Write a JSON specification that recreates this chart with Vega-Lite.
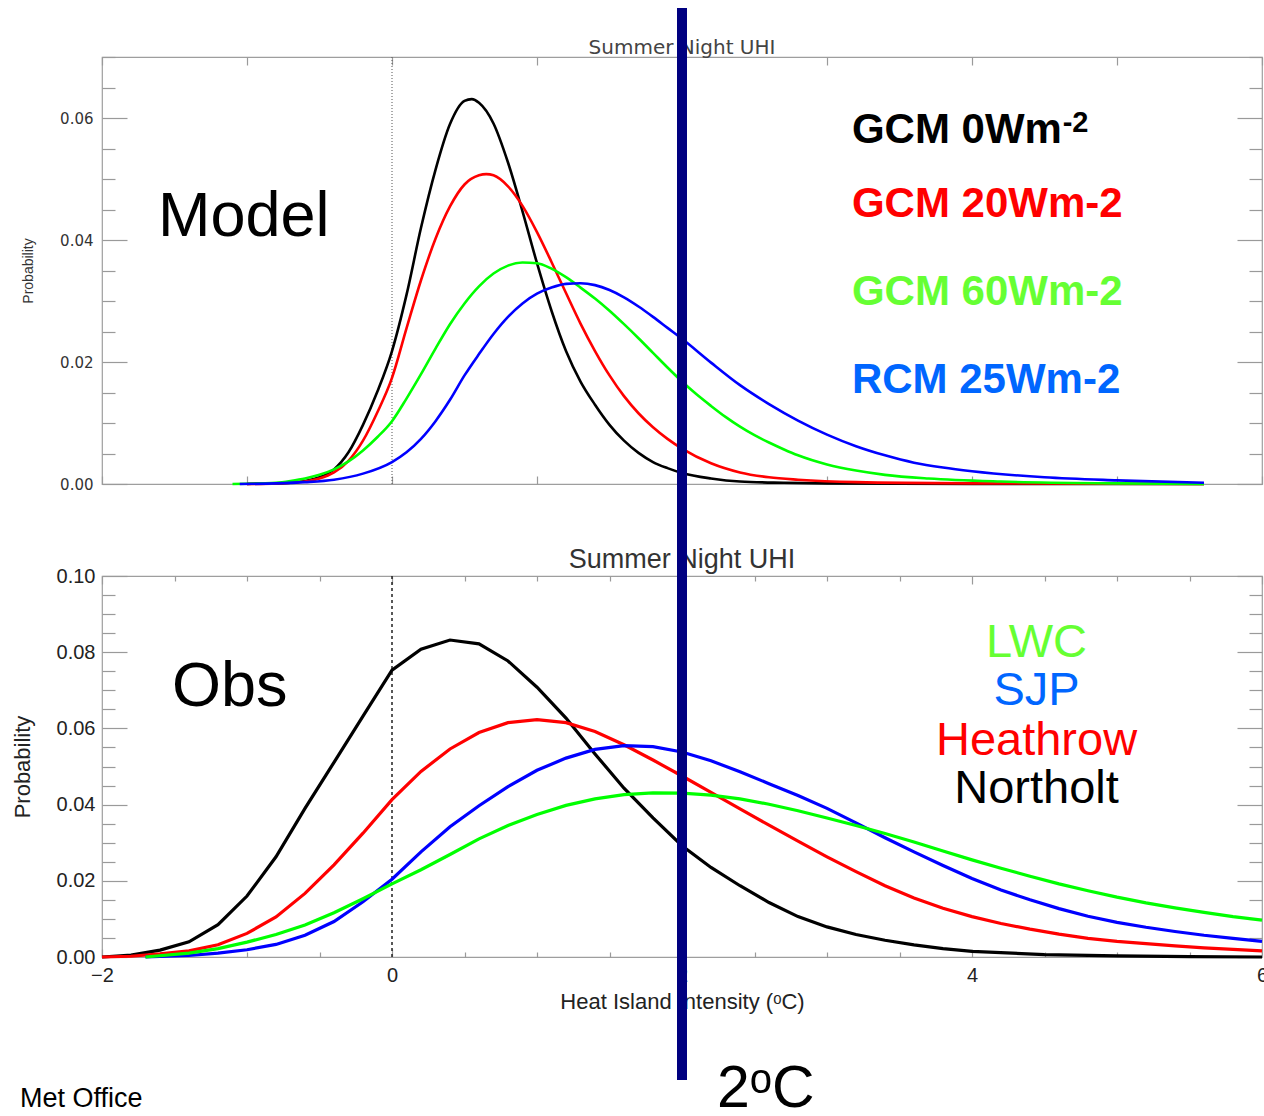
{
  "$schema": "https://vega.github.io/schema/vega-lite/v6.json",
  "background": "white",
  "padding": {"left": 10, "top": 2, "right": 0, "bottom": 0},
  "bounds": "flush",
  "spacing": 92,
  "resolve": {"scale": {"color": "independent", "strokeWidth": "independent"}},
  "config": {
    "view": {"stroke": "#9e9e9e", "strokeWidth": 1.2},
    "font": "Liberation Sans",
    "axis": {"domain": false, "grid": false, "tickColor": "#9a9a9a", "tickWidth": 1.2, "labelOverlap": false, "labelFlush": false, "labelBound": false}
  },
  "datasets": {
    "model": [
      {"run": "GCM 0Wm-2", "t": -1.0, "p": 0}, {"run": "GCM 0Wm-2", "t": -0.9, "p": 0.0001}, {"run": "GCM 0Wm-2", "t": -0.8, "p": 0.0001},
      {"run": "GCM 0Wm-2", "t": -0.7, "p": 0.0002}, {"run": "GCM 0Wm-2", "t": -0.6, "p": 0.0005}, {"run": "GCM 0Wm-2", "t": -0.5, "p": 0.0011},
      {"run": "GCM 0Wm-2", "t": -0.4, "p": 0.0024}, {"run": "GCM 0Wm-2", "t": -0.3, "p": 0.0052}, {"run": "GCM 0Wm-2", "t": -0.2, "p": 0.0097},
      {"run": "GCM 0Wm-2", "t": -0.1, "p": 0.0152}, {"run": "GCM 0Wm-2", "t": 0.0, "p": 0.0218}, {"run": "GCM 0Wm-2", "t": 0.1, "p": 0.031},
      {"run": "GCM 0Wm-2", "t": 0.2, "p": 0.042}, {"run": "GCM 0Wm-2", "t": 0.3, "p": 0.0515}, {"run": "GCM 0Wm-2", "t": 0.4, "p": 0.059},
      {"run": "GCM 0Wm-2", "t": 0.5, "p": 0.0628}, {"run": "GCM 0Wm-2", "t": 0.55, "p": 0.0631}, {"run": "GCM 0Wm-2", "t": 0.6, "p": 0.0625},
      {"run": "GCM 0Wm-2", "t": 0.7, "p": 0.0591}, {"run": "GCM 0Wm-2", "t": 0.8, "p": 0.0527}, {"run": "GCM 0Wm-2", "t": 0.9, "p": 0.0447},
      {"run": "GCM 0Wm-2", "t": 1.0, "p": 0.0362}, {"run": "GCM 0Wm-2", "t": 1.1, "p": 0.0284}, {"run": "GCM 0Wm-2", "t": 1.2, "p": 0.0218},
      {"run": "GCM 0Wm-2", "t": 1.3, "p": 0.0168}, {"run": "GCM 0Wm-2", "t": 1.4, "p": 0.013}, {"run": "GCM 0Wm-2", "t": 1.5, "p": 0.0097},
      {"run": "GCM 0Wm-2", "t": 1.6, "p": 0.0071}, {"run": "GCM 0Wm-2", "t": 1.7, "p": 0.0051}, {"run": "GCM 0Wm-2", "t": 1.8, "p": 0.0036},
      {"run": "GCM 0Wm-2", "t": 1.9, "p": 0.0026}, {"run": "GCM 0Wm-2", "t": 2.0, "p": 0.0018}, {"run": "GCM 0Wm-2", "t": 2.2, "p": 0.0009},
      {"run": "GCM 0Wm-2", "t": 2.4, "p": 0.0004}, {"run": "GCM 0Wm-2", "t": 2.7, "p": 0.0002}, {"run": "GCM 0Wm-2", "t": 3.0, "p": 0.0001},
      {"run": "GCM 0Wm-2", "t": 4.0, "p": 0}, {"run": "GCM 0Wm-2", "t": 5.6, "p": 0},

      {"run": "GCM 20Wm-2", "t": -1.0, "p": 0}, {"run": "GCM 20Wm-2", "t": -0.8, "p": 0.0001}, {"run": "GCM 20Wm-2", "t": -0.7, "p": 0.0002},
      {"run": "GCM 20Wm-2", "t": -0.6, "p": 0.0004}, {"run": "GCM 20Wm-2", "t": -0.5, "p": 0.0009}, {"run": "GCM 20Wm-2", "t": -0.4, "p": 0.0019},
      {"run": "GCM 20Wm-2", "t": -0.3, "p": 0.0038}, {"run": "GCM 20Wm-2", "t": -0.2, "p": 0.0071}, {"run": "GCM 20Wm-2", "t": -0.1, "p": 0.0118},
      {"run": "GCM 20Wm-2", "t": 0.0, "p": 0.0174}, {"run": "GCM 20Wm-2", "t": 0.1, "p": 0.0255}, {"run": "GCM 20Wm-2", "t": 0.2, "p": 0.0334},
      {"run": "GCM 20Wm-2", "t": 0.3, "p": 0.0402}, {"run": "GCM 20Wm-2", "t": 0.4, "p": 0.0455}, {"run": "GCM 20Wm-2", "t": 0.5, "p": 0.0491},
      {"run": "GCM 20Wm-2", "t": 0.6, "p": 0.0506}, {"run": "GCM 20Wm-2", "t": 0.65, "p": 0.0508}, {"run": "GCM 20Wm-2", "t": 0.7, "p": 0.0506},
      {"run": "GCM 20Wm-2", "t": 0.8, "p": 0.0488}, {"run": "GCM 20Wm-2", "t": 0.9, "p": 0.0456}, {"run": "GCM 20Wm-2", "t": 1.0, "p": 0.0413},
      {"run": "GCM 20Wm-2", "t": 1.1, "p": 0.0364}, {"run": "GCM 20Wm-2", "t": 1.2, "p": 0.0313}, {"run": "GCM 20Wm-2", "t": 1.3, "p": 0.0263},
      {"run": "GCM 20Wm-2", "t": 1.4, "p": 0.0218}, {"run": "GCM 20Wm-2", "t": 1.5, "p": 0.0178}, {"run": "GCM 20Wm-2", "t": 1.6, "p": 0.0144},
      {"run": "GCM 20Wm-2", "t": 1.7, "p": 0.0116}, {"run": "GCM 20Wm-2", "t": 1.8, "p": 0.0093}, {"run": "GCM 20Wm-2", "t": 1.9, "p": 0.0074},
      {"run": "GCM 20Wm-2", "t": 2.0, "p": 0.0058}, {"run": "GCM 20Wm-2", "t": 2.2, "p": 0.0034}, {"run": "GCM 20Wm-2", "t": 2.4, "p": 0.0019},
      {"run": "GCM 20Wm-2", "t": 2.6, "p": 0.0011}, {"run": "GCM 20Wm-2", "t": 2.8, "p": 0.0007}, {"run": "GCM 20Wm-2", "t": 3.2, "p": 0.0003},
      {"run": "GCM 20Wm-2", "t": 4.0, "p": 0.0001}, {"run": "GCM 20Wm-2", "t": 5.6, "p": 0},

      {"run": "GCM 60Wm-2", "t": -1.1, "p": 0}, {"run": "GCM 60Wm-2", "t": -0.9, "p": 0.0001}, {"run": "GCM 60Wm-2", "t": -0.8, "p": 0.0002},
      {"run": "GCM 60Wm-2", "t": -0.7, "p": 0.0005}, {"run": "GCM 60Wm-2", "t": -0.6, "p": 0.0009}, {"run": "GCM 60Wm-2", "t": -0.5, "p": 0.0015},
      {"run": "GCM 60Wm-2", "t": -0.4, "p": 0.0024}, {"run": "GCM 60Wm-2", "t": -0.3, "p": 0.0037}, {"run": "GCM 60Wm-2", "t": -0.2, "p": 0.0055},
      {"run": "GCM 60Wm-2", "t": -0.1, "p": 0.0077}, {"run": "GCM 60Wm-2", "t": 0.0, "p": 0.0103}, {"run": "GCM 60Wm-2", "t": 0.1, "p": 0.014},
      {"run": "GCM 60Wm-2", "t": 0.2, "p": 0.018}, {"run": "GCM 60Wm-2", "t": 0.3, "p": 0.0222}, {"run": "GCM 60Wm-2", "t": 0.4, "p": 0.0262},
      {"run": "GCM 60Wm-2", "t": 0.5, "p": 0.0296}, {"run": "GCM 60Wm-2", "t": 0.6, "p": 0.0324}, {"run": "GCM 60Wm-2", "t": 0.7, "p": 0.0345},
      {"run": "GCM 60Wm-2", "t": 0.8, "p": 0.0358}, {"run": "GCM 60Wm-2", "t": 0.9, "p": 0.0363}, {"run": "GCM 60Wm-2", "t": 1.0, "p": 0.0362},
      {"run": "GCM 60Wm-2", "t": 1.1, "p": 0.0353}, {"run": "GCM 60Wm-2", "t": 1.2, "p": 0.0339}, {"run": "GCM 60Wm-2", "t": 1.3, "p": 0.0322},
      {"run": "GCM 60Wm-2", "t": 1.4, "p": 0.0304}, {"run": "GCM 60Wm-2", "t": 1.5, "p": 0.0284}, {"run": "GCM 60Wm-2", "t": 1.6, "p": 0.0262},
      {"run": "GCM 60Wm-2", "t": 1.7, "p": 0.0239}, {"run": "GCM 60Wm-2", "t": 1.8, "p": 0.0215}, {"run": "GCM 60Wm-2", "t": 1.9, "p": 0.0191},
      {"run": "GCM 60Wm-2", "t": 2.0, "p": 0.0168}, {"run": "GCM 60Wm-2", "t": 2.1, "p": 0.0147}, {"run": "GCM 60Wm-2", "t": 2.2, "p": 0.0128},
      {"run": "GCM 60Wm-2", "t": 2.3, "p": 0.011}, {"run": "GCM 60Wm-2", "t": 2.4, "p": 0.0094}, {"run": "GCM 60Wm-2", "t": 2.5, "p": 0.008},
      {"run": "GCM 60Wm-2", "t": 2.6, "p": 0.0068}, {"run": "GCM 60Wm-2", "t": 2.7, "p": 0.0057}, {"run": "GCM 60Wm-2", "t": 2.8, "p": 0.0047},
      {"run": "GCM 60Wm-2", "t": 3.0, "p": 0.0032}, {"run": "GCM 60Wm-2", "t": 3.2, "p": 0.0022}, {"run": "GCM 60Wm-2", "t": 3.4, "p": 0.0015},
      {"run": "GCM 60Wm-2", "t": 3.7, "p": 0.0009}, {"run": "GCM 60Wm-2", "t": 4.2, "p": 0.0004}, {"run": "GCM 60Wm-2", "t": 5.0, "p": 0.0001},
      {"run": "GCM 60Wm-2", "t": 5.6, "p": 0},

      {"run": "RCM 25Wm-2", "t": -1.05, "p": 0}, {"run": "RCM 25Wm-2", "t": -0.8, "p": 0.0001}, {"run": "RCM 25Wm-2", "t": -0.6, "p": 0.0003},
      {"run": "RCM 25Wm-2", "t": -0.4, "p": 0.0007}, {"run": "RCM 25Wm-2", "t": -0.2, "p": 0.0017}, {"run": "RCM 25Wm-2", "t": 0.0, "p": 0.0036},
      {"run": "RCM 25Wm-2", "t": 0.1, "p": 0.0052}, {"run": "RCM 25Wm-2", "t": 0.2, "p": 0.0074}, {"run": "RCM 25Wm-2", "t": 0.3, "p": 0.0103},
      {"run": "RCM 25Wm-2", "t": 0.4, "p": 0.0138}, {"run": "RCM 25Wm-2", "t": 0.5, "p": 0.0178}, {"run": "RCM 25Wm-2", "t": 0.6, "p": 0.0213},
      {"run": "RCM 25Wm-2", "t": 0.7, "p": 0.0246}, {"run": "RCM 25Wm-2", "t": 0.8, "p": 0.0274}, {"run": "RCM 25Wm-2", "t": 0.9, "p": 0.0296},
      {"run": "RCM 25Wm-2", "t": 1.0, "p": 0.0312}, {"run": "RCM 25Wm-2", "t": 1.1, "p": 0.0322}, {"run": "RCM 25Wm-2", "t": 1.2, "p": 0.0328},
      {"run": "RCM 25Wm-2", "t": 1.3, "p": 0.0329}, {"run": "RCM 25Wm-2", "t": 1.4, "p": 0.0326}, {"run": "RCM 25Wm-2", "t": 1.5, "p": 0.0318},
      {"run": "RCM 25Wm-2", "t": 1.6, "p": 0.0306}, {"run": "RCM 25Wm-2", "t": 1.7, "p": 0.0291}, {"run": "RCM 25Wm-2", "t": 1.8, "p": 0.0274},
      {"run": "RCM 25Wm-2", "t": 1.9, "p": 0.0256}, {"run": "RCM 25Wm-2", "t": 2.0, "p": 0.0238}, {"run": "RCM 25Wm-2", "t": 2.2, "p": 0.0199},
      {"run": "RCM 25Wm-2", "t": 2.4, "p": 0.0162}, {"run": "RCM 25Wm-2", "t": 2.6, "p": 0.0131}, {"run": "RCM 25Wm-2", "t": 2.8, "p": 0.0104},
      {"run": "RCM 25Wm-2", "t": 3.0, "p": 0.0081}, {"run": "RCM 25Wm-2", "t": 3.2, "p": 0.0062}, {"run": "RCM 25Wm-2", "t": 3.4, "p": 0.0047},
      {"run": "RCM 25Wm-2", "t": 3.6, "p": 0.0035}, {"run": "RCM 25Wm-2", "t": 3.8, "p": 0.0027}, {"run": "RCM 25Wm-2", "t": 4.0, "p": 0.0021},
      {"run": "RCM 25Wm-2", "t": 4.5, "p": 0.0011}, {"run": "RCM 25Wm-2", "t": 5.0, "p": 0.0006}, {"run": "RCM 25Wm-2", "t": 5.6, "p": 0.0002}
    ],
    "obs": [
      {"site": "Northolt", "t": -2.0, "p": 0}, {"site": "Northolt", "t": -1.8, "p": 0.0005}, {"site": "Northolt", "t": -1.6, "p": 0.0018},
      {"site": "Northolt", "t": -1.4, "p": 0.004}, {"site": "Northolt", "t": -1.2, "p": 0.0085}, {"site": "Northolt", "t": -1.0, "p": 0.016},
      {"site": "Northolt", "t": -0.8, "p": 0.0263}, {"site": "Northolt", "t": -0.6, "p": 0.039}, {"site": "Northolt", "t": -0.4, "p": 0.0511},
      {"site": "Northolt", "t": -0.2, "p": 0.0632}, {"site": "Northolt", "t": 0.0, "p": 0.0753}, {"site": "Northolt", "t": 0.2, "p": 0.0808},
      {"site": "Northolt", "t": 0.4, "p": 0.0832}, {"site": "Northolt", "t": 0.6, "p": 0.0822}, {"site": "Northolt", "t": 0.8, "p": 0.0777},
      {"site": "Northolt", "t": 1.0, "p": 0.0708}, {"site": "Northolt", "t": 1.2, "p": 0.0627}, {"site": "Northolt", "t": 1.4, "p": 0.0533},
      {"site": "Northolt", "t": 1.6, "p": 0.0443}, {"site": "Northolt", "t": 1.8, "p": 0.0365}, {"site": "Northolt", "t": 2.0, "p": 0.0292},
      {"site": "Northolt", "t": 2.2, "p": 0.0235}, {"site": "Northolt", "t": 2.4, "p": 0.0187}, {"site": "Northolt", "t": 2.6, "p": 0.0143},
      {"site": "Northolt", "t": 2.8, "p": 0.0106}, {"site": "Northolt", "t": 3.0, "p": 0.0079}, {"site": "Northolt", "t": 3.2, "p": 0.0059},
      {"site": "Northolt", "t": 3.4, "p": 0.0044}, {"site": "Northolt", "t": 3.6, "p": 0.0032}, {"site": "Northolt", "t": 3.8, "p": 0.0022},
      {"site": "Northolt", "t": 4.0, "p": 0.0015}, {"site": "Northolt", "t": 4.5, "p": 0.0006}, {"site": "Northolt", "t": 5.0, "p": 0.0003},
      {"site": "Northolt", "t": 5.5, "p": 0.0001}, {"site": "Northolt", "t": 6.0, "p": 0},

      {"site": "Heathrow", "t": -2.0, "p": 0}, {"site": "Heathrow", "t": -1.8, "p": 0.0002}, {"site": "Heathrow", "t": -1.6, "p": 0.0008},
      {"site": "Heathrow", "t": -1.4, "p": 0.0016}, {"site": "Heathrow", "t": -1.2, "p": 0.0032}, {"site": "Heathrow", "t": -1.0, "p": 0.0062},
      {"site": "Heathrow", "t": -0.8, "p": 0.0105}, {"site": "Heathrow", "t": -0.6, "p": 0.0167}, {"site": "Heathrow", "t": -0.4, "p": 0.0242},
      {"site": "Heathrow", "t": -0.2, "p": 0.0325}, {"site": "Heathrow", "t": 0.0, "p": 0.0413}, {"site": "Heathrow", "t": 0.2, "p": 0.0487},
      {"site": "Heathrow", "t": 0.4, "p": 0.0546}, {"site": "Heathrow", "t": 0.6, "p": 0.0589}, {"site": "Heathrow", "t": 0.8, "p": 0.0615},
      {"site": "Heathrow", "t": 1.0, "p": 0.0623}, {"site": "Heathrow", "t": 1.2, "p": 0.0615}, {"site": "Heathrow", "t": 1.4, "p": 0.0592},
      {"site": "Heathrow", "t": 1.6, "p": 0.0557}, {"site": "Heathrow", "t": 1.8, "p": 0.0517}, {"site": "Heathrow", "t": 2.0, "p": 0.0475},
      {"site": "Heathrow", "t": 2.2, "p": 0.0432}, {"site": "Heathrow", "t": 2.4, "p": 0.0389}, {"site": "Heathrow", "t": 2.6, "p": 0.0346},
      {"site": "Heathrow", "t": 2.8, "p": 0.0304}, {"site": "Heathrow", "t": 3.0, "p": 0.0263}, {"site": "Heathrow", "t": 3.2, "p": 0.0224},
      {"site": "Heathrow", "t": 3.4, "p": 0.0187}, {"site": "Heathrow", "t": 3.6, "p": 0.0155}, {"site": "Heathrow", "t": 3.8, "p": 0.0128},
      {"site": "Heathrow", "t": 4.0, "p": 0.0106}, {"site": "Heathrow", "t": 4.2, "p": 0.0088}, {"site": "Heathrow", "t": 4.4, "p": 0.0073},
      {"site": "Heathrow", "t": 4.6, "p": 0.006}, {"site": "Heathrow", "t": 4.8, "p": 0.0049}, {"site": "Heathrow", "t": 5.0, "p": 0.0041},
      {"site": "Heathrow", "t": 5.2, "p": 0.0035}, {"site": "Heathrow", "t": 5.4, "p": 0.0029}, {"site": "Heathrow", "t": 5.6, "p": 0.0024},
      {"site": "Heathrow", "t": 5.8, "p": 0.002}, {"site": "Heathrow", "t": 6.0, "p": 0.0016},

      {"site": "SJP", "t": -1.7, "p": 0}, {"site": "SJP", "t": -1.4, "p": 0.0004}, {"site": "SJP", "t": -1.2, "p": 0.001},
      {"site": "SJP", "t": -1.0, "p": 0.0019}, {"site": "SJP", "t": -0.8, "p": 0.0033}, {"site": "SJP", "t": -0.6, "p": 0.0057},
      {"site": "SJP", "t": -0.4, "p": 0.0093}, {"site": "SJP", "t": -0.2, "p": 0.0145}, {"site": "SJP", "t": 0.0, "p": 0.0204},
      {"site": "SJP", "t": 0.2, "p": 0.0276}, {"site": "SJP", "t": 0.4, "p": 0.0342}, {"site": "SJP", "t": 0.6, "p": 0.0397},
      {"site": "SJP", "t": 0.8, "p": 0.0447}, {"site": "SJP", "t": 1.0, "p": 0.049}, {"site": "SJP", "t": 1.2, "p": 0.0522},
      {"site": "SJP", "t": 1.4, "p": 0.0545}, {"site": "SJP", "t": 1.6, "p": 0.0555}, {"site": "SJP", "t": 1.8, "p": 0.0552},
      {"site": "SJP", "t": 2.0, "p": 0.0538}, {"site": "SJP", "t": 2.2, "p": 0.0515}, {"site": "SJP", "t": 2.4, "p": 0.0486},
      {"site": "SJP", "t": 2.6, "p": 0.0455}, {"site": "SJP", "t": 2.8, "p": 0.0424}, {"site": "SJP", "t": 3.0, "p": 0.039},
      {"site": "SJP", "t": 3.2, "p": 0.0352}, {"site": "SJP", "t": 3.4, "p": 0.0313}, {"site": "SJP", "t": 3.6, "p": 0.0276},
      {"site": "SJP", "t": 3.8, "p": 0.024}, {"site": "SJP", "t": 4.0, "p": 0.0206}, {"site": "SJP", "t": 4.2, "p": 0.0176},
      {"site": "SJP", "t": 4.4, "p": 0.015}, {"site": "SJP", "t": 4.6, "p": 0.0127}, {"site": "SJP", "t": 4.8, "p": 0.0107},
      {"site": "SJP", "t": 5.0, "p": 0.0091}, {"site": "SJP", "t": 5.2, "p": 0.0078}, {"site": "SJP", "t": 5.4, "p": 0.0067},
      {"site": "SJP", "t": 5.6, "p": 0.0057}, {"site": "SJP", "t": 5.8, "p": 0.0049}, {"site": "SJP", "t": 6.0, "p": 0.0041},

      {"site": "LWC", "t": -1.7, "p": 0}, {"site": "LWC", "t": -1.4, "p": 0.001}, {"site": "LWC", "t": -1.2, "p": 0.0022},
      {"site": "LWC", "t": -1.0, "p": 0.0039}, {"site": "LWC", "t": -0.8, "p": 0.0059}, {"site": "LWC", "t": -0.6, "p": 0.0084},
      {"site": "LWC", "t": -0.4, "p": 0.0116}, {"site": "LWC", "t": -0.2, "p": 0.0153}, {"site": "LWC", "t": 0.0, "p": 0.0192},
      {"site": "LWC", "t": 0.2, "p": 0.0229}, {"site": "LWC", "t": 0.4, "p": 0.0269}, {"site": "LWC", "t": 0.6, "p": 0.031},
      {"site": "LWC", "t": 0.8, "p": 0.0345}, {"site": "LWC", "t": 1.0, "p": 0.0374}, {"site": "LWC", "t": 1.2, "p": 0.0398},
      {"site": "LWC", "t": 1.4, "p": 0.0415}, {"site": "LWC", "t": 1.6, "p": 0.0426}, {"site": "LWC", "t": 1.8, "p": 0.0431},
      {"site": "LWC", "t": 2.0, "p": 0.043}, {"site": "LWC", "t": 2.2, "p": 0.0425}, {"site": "LWC", "t": 2.4, "p": 0.0415},
      {"site": "LWC", "t": 2.6, "p": 0.0401}, {"site": "LWC", "t": 2.8, "p": 0.0384}, {"site": "LWC", "t": 3.0, "p": 0.0365},
      {"site": "LWC", "t": 3.2, "p": 0.0345}, {"site": "LWC", "t": 3.4, "p": 0.0324}, {"site": "LWC", "t": 3.6, "p": 0.0302},
      {"site": "LWC", "t": 3.8, "p": 0.0278}, {"site": "LWC", "t": 4.0, "p": 0.0255}, {"site": "LWC", "t": 4.2, "p": 0.0233},
      {"site": "LWC", "t": 4.4, "p": 0.0212}, {"site": "LWC", "t": 4.6, "p": 0.0192}, {"site": "LWC", "t": 4.8, "p": 0.0174},
      {"site": "LWC", "t": 5.0, "p": 0.0157}, {"site": "LWC", "t": 5.2, "p": 0.0142}, {"site": "LWC", "t": 5.4, "p": 0.0129},
      {"site": "LWC", "t": 5.6, "p": 0.0117}, {"site": "LWC", "t": 5.8, "p": 0.0106}, {"site": "LWC", "t": 6.0, "p": 0.0097}
    ]
  },
  "vconcat": [
    {
      "width": 1160,
      "height": 427,
      "resolve": {"axis": {"x": "independent", "y": "independent"}},
      "layer": [
        {
          "data": {"values": [{}]},
          "mark": {"type": "rule", "color": "#555555", "strokeWidth": 1, "strokeDash": [1, 2]},
          "encoding": {
            "x": {"datum": 0, "type": "quantitative", "scale": {"domain": [-2, 6], "nice": false, "zero": false},
                  "axis": {"orient": "top", "values": [-2, -1, 0, 1, 2, 3, 4, 5, 6], "tickSize": -8, "labels": false, "title": null}},
            "y": {"datum": 0, "type": "quantitative", "scale": {"domain": [0, 0.07], "nice": false},
                  "axis": {"orient": "right", "values": [0, 0.005, 0.01, 0.015, 0.02, 0.025, 0.03, 0.035, 0.04, 0.045, 0.05, 0.055, 0.06, 0.065, 0.07],
                           "tickSize": {"condition": {"test": "round(datum.value * 1000) % 20 == 0", "value": -25}, "value": -13},
                           "labels": false, "title": null}},
            "y2": {"datum": 0.07}
          }
        },
        {
          "data": {"name": "model"},
          "mark": {"type": "line", "interpolate": "monotone"},
          "encoding": {
            "x": {"field": "t", "type": "quantitative", "scale": {"domain": [-2, 6], "nice": false, "zero": false},
                  "axis": {"orient": "bottom", "values": [-2, -1, 0, 1, 2, 3, 4, 5, 6], "tickSize": -8, "labels": false, "title": null}},
            "y": {"field": "p", "type": "quantitative", "scale": {"domain": [0, 0.07], "nice": false},
                  "axis": {"orient": "left", "values": [0, 0.005, 0.01, 0.015, 0.02, 0.025, 0.03, 0.035, 0.04, 0.045, 0.05, 0.055, 0.06, 0.065, 0.07],
                           "tickSize": {"condition": {"test": "round(datum.value * 1000) % 20 == 0", "value": -25}, "value": -13},
                           "labelExpr": "round(datum.value * 1000) % 20 == 0 ? format(datum.value, '.2f') : ''",
                           "labelPadding": 34, "labelFont": "DejaVu Sans", "labelFontSize": 15, "labelColor": "#333333",
                           "title": "Probability", "titleFont": "Liberation Sans Narrow, Liberation Sans", "titleFontSize": 14,
                           "titleFontWeight": "normal", "titleColor": "#333333", "titlePadding": 24}},
            "color": {"field": "run", "type": "nominal",
                      "scale": {"domain": ["GCM 0Wm-2", "GCM 20Wm-2", "GCM 60Wm-2", "RCM 25Wm-2"], "range": ["#000000", "#ff0000", "#00ff00", "#0000ff"]},
                      "legend": null},
            "strokeWidth": {"field": "run", "type": "nominal",
                            "scale": {"domain": ["GCM 0Wm-2", "GCM 20Wm-2", "GCM 60Wm-2", "RCM 25Wm-2"], "range": [2.6, 2.6, 2.6, 1.6]},
                            "legend": null}
          }
        },
        {
          "data": {"values": [{}]},
          "mark": {"type": "text", "font": "DejaVu Sans", "fontSize": 20, "color": "#444444", "align": "center", "baseline": "alphabetic"},
          "encoding": {
            "x": {"datum": 2, "type": "quantitative", "axis": null},
            "y": {"datum": 0.0705, "type": "quantitative", "axis": null},
            "text": {"value": "Summer Night UHI"}
          }
        },
        {
          "data": {"values": [{}]},
          "mark": {"type": "text", "font": "Liberation Sans", "fontSize": 63, "color": "#000000", "align": "left", "baseline": "alphabetic"},
          "encoding": {
            "x": {"datum": -1.614, "type": "quantitative", "axis": null},
            "y": {"datum": 0.0407, "type": "quantitative", "axis": null},
            "text": {"value": "Model"}
          }
        },
        {
          "data": {"values": [{}]},
          "mark": {"type": "text", "font": "Liberation Sans", "fontSize": 42, "fontWeight": "bold", "color": "#000000", "align": "left", "baseline": "alphabetic"},
          "encoding": {
            "x": {"datum": 3.172, "type": "quantitative", "axis": null},
            "y": {"datum": 0.0559, "type": "quantitative", "axis": null},
            "text": {"value": "GCM 0Wm"}
          }
        },
        {
          "data": {"values": [{}]},
          "mark": {"type": "text", "font": "Liberation Sans", "fontSize": 29, "fontWeight": "bold", "color": "#000000", "align": "left", "baseline": "alphabetic"},
          "encoding": {
            "x": {"datum": 4.625, "type": "quantitative", "axis": null},
            "y": {"datum": 0.0577, "type": "quantitative", "axis": null},
            "text": {"value": "-2"}
          }
        },
        {
          "data": {"values": [{}]},
          "mark": {"type": "text", "font": "Liberation Sans", "fontSize": 42, "fontWeight": "bold", "color": "#ff0000", "align": "left", "baseline": "alphabetic"},
          "encoding": {
            "x": {"datum": 3.172, "type": "quantitative", "axis": null},
            "y": {"datum": 0.0438, "type": "quantitative", "axis": null},
            "text": {"value": "GCM 20Wm-2"}
          }
        },
        {
          "data": {"values": [{}]},
          "mark": {"type": "text", "font": "Liberation Sans", "fontSize": 42, "fontWeight": "bold", "color": "#66ff33", "align": "left", "baseline": "alphabetic"},
          "encoding": {
            "x": {"datum": 3.172, "type": "quantitative", "axis": null},
            "y": {"datum": 0.0293, "type": "quantitative", "axis": null},
            "text": {"value": "GCM 60Wm-2"}
          }
        },
        {
          "data": {"values": [{}]},
          "mark": {"type": "text", "font": "Liberation Sans", "fontSize": 42, "fontWeight": "bold", "color": "#0066ff", "align": "left", "baseline": "alphabetic"},
          "encoding": {
            "x": {"datum": 3.172, "type": "quantitative", "axis": null},
            "y": {"datum": 0.0149, "type": "quantitative", "axis": null},
            "text": {"value": "RCM 25Wm-2"}
          }
        },
        {
          "data": {"values": [{}]},
          "mark": {"type": "rule", "color": "#000080", "strokeWidth": 10},
          "encoding": {
            "x": {"datum": 2, "type": "quantitative", "axis": null},
            "y": {"datum": 0.07803, "type": "quantitative", "axis": null},
            "y2": {"datum": -0.0165}
          }
        }
      ]
    },
    {
      "width": 1160,
      "height": 381,
      "resolve": {"axis": {"x": "independent", "y": "independent"}},
      "layer": [
        {
          "data": {"values": [{}]},
          "mark": {"type": "rule", "color": "#222222", "strokeWidth": 1.5, "strokeDash": [3, 3]},
          "encoding": {
            "x": {"datum": 0, "type": "quantitative", "scale": {"domain": [-2, 6], "nice": false, "zero": false},
                  "axis": {"orient": "top", "values": [-2, -1.5, -1, -0.5, 0, 0.5, 1, 1.5, 2, 2.5, 3, 3.5, 4, 4.5, 5, 5.5, 6],
                           "tickSize": {"condition": {"test": "round(datum.value * 2) % 4 == 0", "value": -8}, "value": -5},
                           "labels": false, "title": null}},
            "y": {"datum": 0, "type": "quantitative", "scale": {"domain": [0, 0.1], "nice": false},
                  "axis": {"orient": "right", "values": [0, 0.005, 0.01, 0.015, 0.02, 0.025, 0.03, 0.035, 0.04, 0.045, 0.05, 0.055, 0.06, 0.065, 0.07, 0.075, 0.08, 0.085, 0.09, 0.095, 0.1],
                           "tickSize": {"condition": {"test": "round(datum.value * 1000) % 20 == 0", "value": -25}, "value": -13},
                           "labels": false, "title": null}},
            "y2": {"datum": 0.1}
          }
        },
        {
          "data": {"name": "obs"},
          "mark": {"type": "line", "strokeWidth": 3.2},
          "encoding": {
            "x": {"field": "t", "type": "quantitative", "scale": {"domain": [-2, 6], "nice": false, "zero": false},
                  "axis": {"orient": "bottom", "values": [-2, -1.5, -1, -0.5, 0, 0.5, 1, 1.5, 2, 2.5, 3, 3.5, 4, 4.5, 5, 5.5, 6],
                           "tickSize": {"condition": {"test": "round(datum.value * 2) % 4 == 0", "value": -8}, "value": -5},
                           "labelExpr": "round(datum.value * 2) % 4 == 0 ? format(datum.value, 'd') : ''",
                           "labelPadding": 16, "labelFont": "Liberation Sans", "labelFontSize": 20, "labelColor": "#222222",
                           "title": "Heat Island Intensity (ᵒC)", "titleFont": "Liberation Sans, DejaVu Sans", "titleFontSize": 22,
                           "titleFontWeight": "normal", "titleColor": "#222222", "titlePadding": 3}},
            "y": {"field": "p", "type": "quantitative", "scale": {"domain": [0, 0.1], "nice": false},
                  "axis": {"orient": "left", "values": [0, 0.005, 0.01, 0.015, 0.02, 0.025, 0.03, 0.035, 0.04, 0.045, 0.05, 0.055, 0.06, 0.065, 0.07, 0.075, 0.08, 0.085, 0.09, 0.095, 0.1],
                           "tickSize": {"condition": {"test": "round(datum.value * 1000) % 20 == 0", "value": -25}, "value": -13},
                           "labelExpr": "round(datum.value * 1000) % 20 == 0 ? format(datum.value, '.2f') : ''",
                           "labelPadding": 32, "labelFont": "Liberation Sans", "labelFontSize": 20, "labelColor": "#222222",
                           "title": "Probability", "titleFont": "Liberation Sans", "titleFontSize": 22,
                           "titleFontWeight": "normal", "titleColor": "#222222", "titlePadding": 22}},
            "color": {"field": "site", "type": "nominal",
                      "scale": {"domain": ["LWC", "SJP", "Heathrow", "Northolt"], "range": ["#00ff00", "#0000ff", "#ff0000", "#000000"]},
                      "legend": null}
          }
        },
        {
          "data": {"values": [{}]},
          "mark": {"type": "text", "font": "Liberation Sans", "fontSize": 27, "color": "#333333", "align": "center", "baseline": "alphabetic"},
          "encoding": {
            "x": {"datum": 2, "type": "quantitative", "axis": null},
            "y": {"datum": 0.1021, "type": "quantitative", "axis": null},
            "text": {"value": "Summer Night UHI"}
          }
        },
        {
          "data": {"values": [{}]},
          "mark": {"type": "text", "font": "Liberation Sans", "fontSize": 63, "color": "#000000", "align": "left", "baseline": "alphabetic"},
          "encoding": {
            "x": {"datum": -1.517, "type": "quantitative", "axis": null},
            "y": {"datum": 0.0659, "type": "quantitative", "axis": null},
            "text": {"value": "Obs"}
          }
        },
        {
          "data": {"values": [{}]},
          "mark": {"type": "text", "font": "Liberation Sans", "fontSize": 47, "color": "#66ff33", "align": "center", "baseline": "alphabetic"},
          "encoding": {
            "x": {"datum": 4.445, "type": "quantitative", "axis": null},
            "y": {"datum": 0.0787, "type": "quantitative", "axis": null},
            "text": {"value": "LWC"}
          }
        },
        {
          "data": {"values": [{}]},
          "mark": {"type": "text", "font": "Liberation Sans", "fontSize": 47, "color": "#0066ff", "align": "center", "baseline": "alphabetic"},
          "encoding": {
            "x": {"datum": 4.445, "type": "quantitative", "axis": null},
            "y": {"datum": 0.0661, "type": "quantitative", "axis": null},
            "text": {"value": "SJP"}
          }
        },
        {
          "data": {"values": [{}]},
          "mark": {"type": "text", "font": "Liberation Sans", "fontSize": 47, "color": "#ff0000", "align": "center", "baseline": "alphabetic"},
          "encoding": {
            "x": {"datum": 4.445, "type": "quantitative", "axis": null},
            "y": {"datum": 0.053, "type": "quantitative", "axis": null},
            "text": {"value": "Heathrow"}
          }
        },
        {
          "data": {"values": [{}]},
          "mark": {"type": "text", "font": "Liberation Sans", "fontSize": 47, "color": "#000000", "align": "center", "baseline": "alphabetic"},
          "encoding": {
            "x": {"datum": 4.445, "type": "quantitative", "axis": null},
            "y": {"datum": 0.0403, "type": "quantitative", "axis": null},
            "text": {"value": "Northolt"}
          }
        },
        {
          "data": {"values": [{}]},
          "mark": {"type": "text", "font": "Liberation Sans", "fontSize": 27, "color": "#000000", "align": "left", "baseline": "alphabetic"},
          "encoding": {
            "x": {"datum": -2.5655, "type": "quantitative", "axis": null},
            "y": {"datum": -0.0394, "type": "quantitative", "axis": null},
            "text": {"value": "Met Office"}
          }
        },
        {
          "data": {"values": [{}]},
          "mark": {"type": "text", "font": "Liberation Sans, DejaVu Sans", "fontSize": 59, "color": "#000000", "align": "left", "baseline": "alphabetic"},
          "encoding": {
            "x": {"datum": 2.241, "type": "quantitative", "axis": null},
            "y": {"datum": -0.0394, "type": "quantitative", "axis": null},
            "text": {"value": "2ᵒC"}
          }
        },
        {
          "data": {"values": [{}]},
          "mark": {"type": "rule", "color": "#000080", "strokeWidth": 10},
          "encoding": {
            "x": {"datum": 2, "type": "quantitative", "axis": null},
            "y": {"datum": 0.12, "type": "quantitative", "axis": null},
            "y2": {"datum": -0.0323}
          }
        }
      ]
    }
  ]
}
